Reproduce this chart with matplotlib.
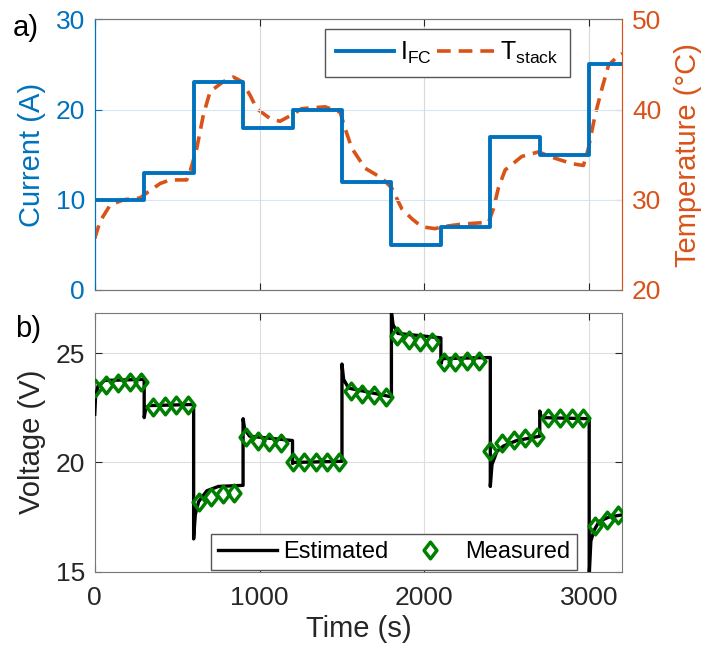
import numpy as np
import matplotlib
matplotlib.use('Agg')
import matplotlib.pyplot as plt
from matplotlib.path import Path

plt.rcParams['font.family'] = ['Liberation Sans', 'DejaVu Sans']
plt.rcParams['mathtext.fontset'] = 'custom'
plt.rcParams['mathtext.rm'] = 'Liberation Sans'

BLUE = '#0072BD'
ORANGE = '#D95319'
GREEN = '#008000'
AXC = '#262626'

# current profile (step changes every 300 s)
t_step = [0, 300, 600, 900, 1200, 1500, 1800, 2100, 2400, 2700, 3000, 3200]
i_fc = [10, 13, 23, 18, 20, 12, 5, 7, 17, 15, 25, 25]

# stack temperature
t_temp = [0, 32, 93, 174, 275, 326, 397, 457, 558, 578, 619, 659, 700, 781, 841, 892,
          942, 983, 1064, 1124, 1195, 1256, 1398, 1489, 1519, 1560, 1640, 1742, 1802,
          1863, 1924, 1984, 2065, 2106, 2227, 2389, 2419, 2449, 2490, 2591, 2692, 2793,
          2895, 2965, 2995, 3036, 3077, 3117, 3178, 3200]
T_stack = [25.7, 27.6, 29.4, 30.0, 30.2, 30.9, 31.8, 32.2, 32.2, 33.1, 35.7, 39.4, 42.0,
           43.1, 43.6, 43.1, 41.6, 40.1, 39.0, 38.7, 39.4, 40.1, 40.3, 39.7, 37.9, 35.7,
           33.5, 32.4, 31.3, 29.0, 27.9, 27.0, 26.8, 27.0, 27.3, 27.5, 29.0, 31.3, 33.3,
           34.8, 35.3, 34.6, 34.0, 33.8, 35.7, 39.4, 42.3, 44.9, 46.0, 46.2]

# estimated voltage (vertices of the model output)
t_est = [0, 5, 20, 60, 300, 300, 310, 330, 600, 600, 610, 630, 680, 750, 900, 900, 910,
         940, 1200, 1200, 1210, 1500, 1500, 1510, 1540, 1800, 1800, 1810, 1840, 2100,
         2100, 2110, 2400, 2400, 2410, 2440, 2480, 2560, 2700, 2700, 2710, 3000, 3000,
         3010, 3030, 3060, 3120, 3200]
v_est = [22.2, 23.0, 23.5, 23.75, 23.8, 22.05, 22.5, 22.6, 22.65, 16.5, 17.6, 18.2, 18.7,
         18.9, 18.95, 22.0, 21.5, 21.2, 21.0, 19.95, 20.0, 20.05, 24.5, 23.8, 23.4, 23.0,
         26.9, 26.3, 25.9, 25.7, 24.5, 24.75, 24.8, 18.9, 19.9, 20.5, 20.75, 21.0, 21.2,
         22.35, 22.05, 22.0, 14.8, 16.4, 16.9, 17.3, 17.5, 17.6]

# measured voltage
t_meas = [0, 71, 141, 212, 282, 353, 424, 494, 565, 635, 706, 777, 847, 918, 988, 1059,
          1129, 1200, 1271, 1341, 1412, 1482, 1553, 1624, 1694, 1765, 1835, 1906, 1976,
          2047, 2118, 2188, 2259, 2329, 2400, 2471, 2541, 2612, 2682, 2753, 2824, 2894,
          2965, 3035, 3106, 3176]
v_meas = [23.4, 23.55, 23.62, 23.66, 23.68, 22.55, 22.6, 22.62, 22.62, 18.17, 18.4, 18.57,
          18.6, 21.14, 21.0, 20.92, 20.9, 20.0, 20.0, 20.0, 20.0, 20.0, 23.25, 23.15, 23.08,
          22.98, 25.78, 25.6, 25.53, 25.5, 24.6, 24.6, 24.62, 24.65, 20.53, 20.89, 21.04,
          21.12, 21.16, 22.03, 22.02, 22.02, 22.02, 17.07, 17.38, 17.6]

diamond = Path([(-0.77, 0), (0, 1), (0.77, 0), (0, -1), (-0.77, 0)],
               [Path.MOVETO, Path.LINETO, Path.LINETO, Path.LINETO, Path.CLOSEPOLY])

fig = plt.figure(figsize=(7.07, 6.55), dpi=100)
ax1 = fig.add_axes([0.134, 0.5573, 0.746, 0.4132])
ax2 = ax1.twinx()
ax3 = fig.add_axes([0.134, 0.1272, 0.746, 0.3954])

tick_fs = 19
lab_fs = 21
leg_fs = 17

# ---- top panel
l1, = ax1.step(t_step, i_fc, where='post', color=BLUE, lw=2.8, label=r'$\mathregular{I_{FC}}$')
l2, = ax2.plot(t_temp, T_stack, color=ORANGE, lw=2.6, dashes=(3.8, 2.2),
               label=r'$\mathregular{T_{stack}}$')
ax1.set_xlim(0, 3200)
ax1.set_ylim(0, 30)
ax2.set_ylim(20, 50)
ax1.set_yticks([0, 10, 20, 30])
ax2.set_yticks([20, 30, 40, 50])
ax1.set_xticks([0, 1000, 2000, 3000])
ax1.set_xticklabels([])
ax1.grid(True, axis='x', color='#d9d9d9', lw=0.8)
for y in [10, 20]:
    ax1.axhline(y, color='#d5e6f4', lw=0.8, zorder=0)
ax1.set_ylabel('Current (A)', color=BLUE, fontsize=lab_fs, labelpad=7)
ax2.set_ylabel('Temperature (\u00b0C)', color=ORANGE, fontsize=lab_fs, labelpad=9)
ax1.tick_params(axis='y', colors=BLUE, labelsize=tick_fs, direction='in', length=5, pad=7)
ax2.tick_params(axis='y', colors=ORANGE, labelsize=tick_fs, direction='in', length=5, pad=7)
ax1.tick_params(axis='x', direction='in', length=5, top=True, color=AXC)
for ax in (ax1, ax2):
    ax.spines['top'].set_color('#777777')
    ax.spines['bottom'].set_color('#777777')
    ax.spines['left'].set_color(BLUE)
    ax.spines['right'].set_color(ORANGE)
ax1.set_zorder(ax2.get_zorder() + 1)
ax1.patch.set_visible(False)
leg1 = ax1.legend(handles=[l1, l2], loc='upper right', bbox_to_anchor=(0.901, 0.966),
                  ncol=2, fontsize=leg_fs + 1, handlelength=2.3, columnspacing=0.2,
                  handletextpad=0.25, borderpad=0.45, fancybox=False, framealpha=1,
                  edgecolor='#555555', borderaxespad=0)
leg1.get_frame().set_linewidth(1.0)

# ---- bottom panel
ax3.plot(t_est, v_est, color='black', lw=2.4, label='Estimated', zorder=3,
         solid_joinstyle='round')
ax3.plot(t_meas, v_meas, linestyle='none', marker=diamond, markersize=12,
         markerfacecolor='none', markeredgecolor=GREEN, markeredgewidth=2.5,
         label='Measured', zorder=4)
ax3.set_xlim(0, 3200)
ax3.set_ylim(15, 26.85)
ax3.set_xticks([0, 1000, 2000, 3000])
ax3.set_yticks([15, 20, 25])
ax3.grid(True, color='#dedede', lw=0.8)
ax3.set_axisbelow(True)
ax3.tick_params(labelsize=tick_fs, direction='in', length=5, top=True, right=True,
                colors=AXC, pad=7)
ax3.tick_params(axis='x', pad=10)
for s in ax3.spines.values():
    s.set_color('#777777')
ax3.set_ylabel('Voltage (V)', fontsize=lab_fs, color=AXC, labelpad=7)
ax3.set_xlabel('Time (s)', fontsize=lab_fs, color=AXC, labelpad=4)
leg2 = ax3.legend(loc='lower right', bbox_to_anchor=(0.915, 0.007), ncol=2,
                  fontsize=leg_fs, handlelength=2.5, columnspacing=0.5,
                  handletextpad=0.25, borderpad=0.3, fancybox=False, framealpha=1,
                  edgecolor='#555555', borderaxespad=0)
leg2.get_frame().set_linewidth(1.0)

fig.text(0.018, 0.958, 'a)', fontsize=lab_fs, va='center', color='black')
fig.text(0.022, 0.497, 'b)', fontsize=lab_fs, va='center', color='black')

fig.savefig('out.png', dpi=100)
